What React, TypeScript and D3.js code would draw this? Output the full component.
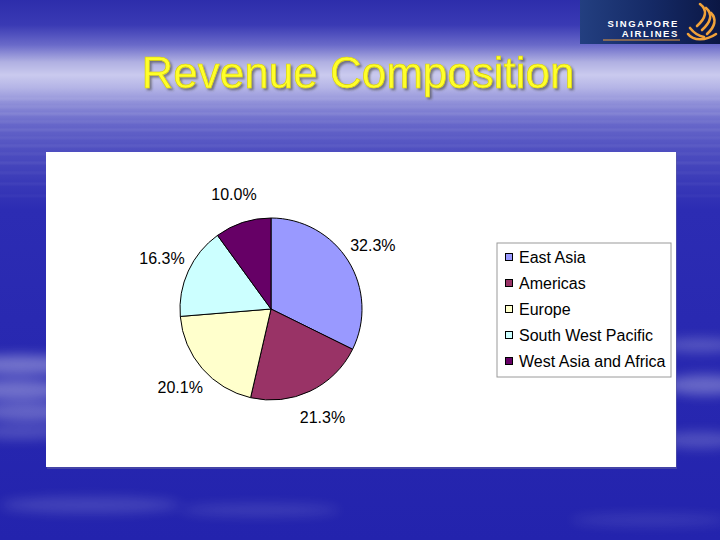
import React from 'react';
import * as d3 from 'd3';

const categories = ['East Asia', 'Americas', 'Europe', 'South West Pacific', 'West Asia and Africa'];
const shares = [32.3, 21.3, 20.1, 16.3, 10.0];
const sliceColors = ['#9999FF', '#993366', '#FFFFCC', '#CCFFFF', '#660066'];
const titleText = 'Revenue Composition';

const W = 720;
const H = 540;
const FONT = 'Arial, "Liberation Sans", Helvetica, sans-serif';

export default function App() {
  const cx = 271;
  const cy = 309;
  const r = 91;
  const pie = d3.pie<number>().sort(null).value((d) => d).startAngle(0).endAngle(2 * Math.PI);
  const arcs = pie(shares);
  const arc = d3.arc<d3.PieArcDatum<number>>().innerRadius(0).outerRadius(r);
  const labelArc = d3.arc<d3.PieArcDatum<number>>().innerRadius(120).outerRadius(120);
  const legendY = d3.scalePoint<string>().domain(categories).range([257, 361]);

  const bgStops: [number, string][] = [
    [0, '#2d2dab'], [25, '#3a3ab4'], [45, '#6a6ac9'], [62, '#b0b0e2'], [75, '#cacaee'],
    [88, '#b4b4e6'], [105, '#8a8ad6'], [125, '#6666c9'], [150, '#4f4fc0'], [180, '#3b3bb8'],
    [210, '#2c2cb3'], [540, '#2323ad'],
  ];

  const streaks = [
    [98, 0.12], [106, 0.1], [113, 0.14], [121, 0.1], [129, 0.12], [137, 0.08], [145, 0.1],
    [153, 0.08], [162, 0.1], [172, 0.07], [183, 0.08], [195, 0.06],
  ];

  return (
    <svg width={W} height={H} style={{ position: 'absolute', left: 0, top: 0 }} xmlns="http://www.w3.org/2000/svg">
      <defs>
        <linearGradient id="bg" gradientUnits="userSpaceOnUse" x1="0" y1="0" x2="0" y2={H}>
          {bgStops.map(([y, c], i) => (
            <stop key={i} offset={y / H} stopColor={c} />
          ))}
        </linearGradient>
        <linearGradient id="logo" x1="0" y1="0" x2="1" y2="0">
          <stop offset="0" stopColor="#233f80" />
          <stop offset="0.5" stopColor="#152a66" />
          <stop offset="1" stopColor="#0b1744" />
        </linearGradient>
        <filter id="blur" x="-50%" y="-50%" width="200%" height="200%">
          <feGaussianBlur stdDeviation="6" />
        </filter>
        <filter id="blur2" x="-50%" y="-50%" width="200%" height="200%">
          <feGaussianBlur stdDeviation="1.2" />
        </filter>
        <filter id="tshadow" x="-10%" y="-30%" width="120%" height="160%">
          <feDropShadow dx="2" dy="2" stdDeviation="1" floodColor="#3a3a30" floodOpacity="0.55" />
        </filter>
      </defs>

      <rect x={0} y={0} width={W} height={H} fill="url(#bg)" />
      {streaks.map(([y, o], i) => (
        <rect key={i} x={-20} y={y} width={W + 40} height={1.5} fill="#ffffff" opacity={o as number} filter="url(#blur2)" />
      ))}
      <g filter="url(#blur)" fill="#ffffff">
        <ellipse cx={20} cy={365} rx={60} ry={10} opacity={0.35} />
        <ellipse cx={15} cy={390} rx={55} ry={10} opacity={0.35} />
        <ellipse cx={30} cy={412} rx={55} ry={9} opacity={0.3} />
        <ellipse cx={20} cy={432} rx={50} ry={7} opacity={0.2} />
        <ellipse cx={700} cy={345} rx={40} ry={7} opacity={0.22} />
        <ellipse cx={705} cy={385} rx={40} ry={10} opacity={0.3} />
        <ellipse cx={700} cy={440} rx={40} ry={8} opacity={0.2} />
        <ellipse cx={90} cy={505} rx={90} ry={8} opacity={0.15} />
        <ellipse cx={260} cy={510} rx={80} ry={6} opacity={0.12} />
        <ellipse cx={650} cy={520} rx={80} ry={6} opacity={0.1} />
      </g>

      {/* logo */}
      <rect x={580} y={0} width={140} height={44} fill="url(#logo)" />
      <text x={679} y={26.5} textAnchor="end" fill="#ffffff" fontFamily={FONT} fontWeight="bold" fontSize={9.5} letterSpacing={1.6}>SINGAPORE</text>
      <text x={679} y={37} textAnchor="end" fill="#ffffff" fontFamily={FONT} fontWeight="bold" fontSize={9.5} letterSpacing={1.6}>AIRLINES</text>
      <line x1={603} x2={680} y1={40} y2={40} stroke="#e89a3c" strokeWidth={1.2} />
      <g fill="none" stroke="#f0a23a" strokeWidth={2.6} strokeLinecap="round">
        <path d="M700,4 C708,10 706,18 697,26" />
        <path d="M706,8 C713,14 711,22 702,30" />
        <path d="M711,13 C717,19 715,27 707,34" />
        <path d="M688,34 C693,41 706,41 716,34" />
        <path d="M690,28 C694,33 698,36 704,37" />
      </g>

      {/* title */}
      <text x={358} y={88} textAnchor="middle" fontFamily={FONT} fontSize={44} fill="#ffff2a" stroke="#d8d000" strokeWidth={0.6} filter="url(#tshadow)">{titleText}</text>

      {/* panel */}
      <rect x={47} y={153} width={630} height={316} fill="#5a5aa0" opacity={0.6} />
      <rect x={46} y={152} width={630} height={315} fill="#ffffff" />

      {/* pie */}
      <g transform={`translate(${cx},${cy})`}>
        {arcs.map((a, i) => (
          <path key={i} d={arc(a) || ''} fill={sliceColors[i]} stroke="#000000" strokeWidth={1} strokeLinejoin="round" />
        ))}
        {arcs.map((a, i) => {
          const [lx, ly] = labelArc.centroid(a);
          return (
            <text key={'l' + i} x={lx} y={ly} textAnchor="middle" dominantBaseline="central" fontFamily={FONT} fontSize={16} fill="#000000">
              {shares[i].toFixed(1) + '%'}
            </text>
          );
        })}
      </g>

      {/* legend */}
      <rect x={497} y={243} width={174} height={134} fill="#ffffff" stroke="#9a9a9a" strokeWidth={1} />
      {categories.map((c, i) => {
        const y = legendY(c) as number;
        return (
          <g key={c}>
            <rect x={505.5} y={y - 3.5} width={7} height={7} fill={sliceColors[i]} stroke="#000000" strokeWidth={1} />
            <text x={519} y={y} dominantBaseline="central" fontFamily={FONT} fontSize={16} fill="#000000">{c}</text>
          </g>
        );
      })}
    </svg>
  );
}
